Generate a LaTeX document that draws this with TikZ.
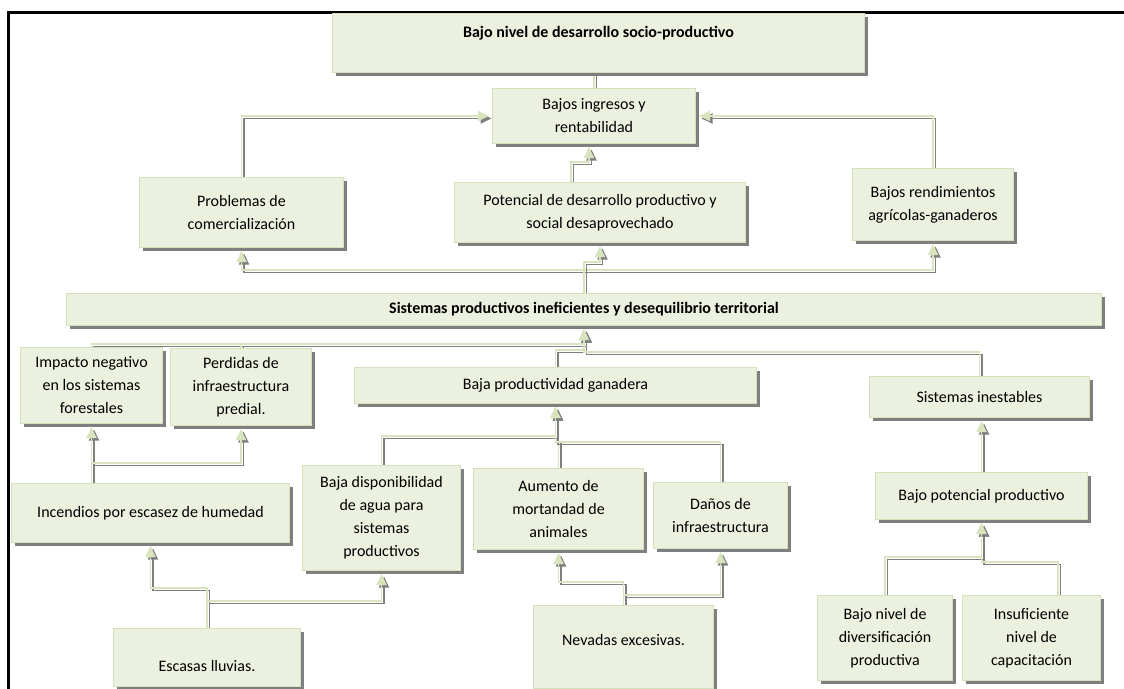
\documentclass[tikz,border=0pt]{standalone}
\usepackage{fontspec}
\setmainfont{Carlito}
\usetikzlibrary{arrows.meta,shadows,backgrounds}
\definecolor{arbfill}{HTML}{EBF1DE}
\definecolor{arbedge}{HTML}{D4E2BC}
\definecolor{arbshade}{HTML}{7F7F7F}
\definecolor{arblink}{HTML}{D7E4BD}

\begin{document}
\begin{tikzpicture}[
  x=1pt, y=-1pt,
  font=\fontsize{16}{23}\selectfont,
  box/.style={draw=arbedge, line width=1pt, fill=arbfill, align=center,
              inner sep=0pt, anchor=north west,
              general shadow={fill=arbshade, shadow xshift=3pt, shadow yshift=-3pt}},
  head/.style={box, font=\fontsize{16}{23}\selectfont\bfseries},
  tie/.style={draw=arblink, line width=1.8pt,
              preaction={draw=arbshade, line width=1.8pt,
                         transform canvas={shift={(2.5pt,-2.5pt)}}}},
  link/.style={draw=arblink, line width=1.8pt, shorten >=3pt,
               -{Triangle[length=11pt,width=10pt]},
               preaction={draw=arbshade, line width=1.8pt, shorten >=3pt,
                          -{Triangle[length=11pt,width=10pt]},
                          transform canvas={shift={(2.5pt,-2.5pt)}}}},
]
\useasboundingbox (0,0) rectangle (1124,688);

% ---------------- frame ---------------------------------------------
\draw[line width=3pt] (8,700) -- (8,12) -- (1140,12);

% ---------------- effects -------------------------------------------
\node[head, minimum width=532pt, minimum height=59pt, text depth=23pt] (top) at (332,13)
  {Bajo nivel de desarrollo socio-productivo};
\node[box, minimum width=203pt, minimum height=55pt] (ingresos) at (492,88)
  {Bajos ingresos y\\rentabilidad};
\node[box, minimum width=204pt, minimum height=70pt] (problemas) at (139,177)
  {Problemas de\\comercialización};
\node[box, minimum width=291pt, minimum height=60pt] (potencial) at (454,182)
  {Potencial de desarrollo productivo y\\social desaprovechado};
\node[box, minimum width=161pt, minimum height=72pt] (rendim) at (852,168)
  {Bajos rendimientos\\agrícolas-ganaderos};

% ---------------- core problem --------------------------------------
\node[head, minimum width=1035pt, minimum height=32pt] (sistemas) at (66,293)
  {Sistemas productivos ineficientes y desequilibrio territorial};

% ---------------- causes --------------------------------------------
\node[box, minimum width=142pt, minimum height=76pt] (impacto) at (20,347)
  {Impacto negativo\\en los sistemas\\forestales};
\node[box, minimum width=141pt, minimum height=77pt] (perdidas) at (170,348)
  {Perdidas de\\infraestructura\\predial.};
\node[box, minimum width=402pt, minimum height=36pt] (bajaprod) at (354,367)
  {Baja productividad ganadera};
\node[box, minimum width=220pt, minimum height=41pt] (inestables) at (869,376)
  {Sistemas inestables};
\node[box, minimum width=278pt, minimum height=59pt] (incendios) at (11,483)
  {Incendios por escasez de humedad};
\node[box, minimum width=158pt, minimum height=105pt] (bajadisp) at (302,465)
  {Baja disponibilidad\\de agua para\\sistemas\\productivos};
\node[box, minimum width=170pt, minimum height=81pt] (aumento) at (473,468)
  {Aumento de\\mortandad de\\animales};
\node[box, minimum width=134pt, minimum height=66pt] (danos) at (653,482)
  {Daños de\\infraestructura};
\node[box, minimum width=212pt, minimum height=47pt] (potprod) at (875,472)
  {Bajo potencial productivo};
\node[box, minimum width=187pt, minimum height=58pt, text height=28pt] (escasas) at (113,628)
  {Escasas lluvias.};
\node[box, minimum width=180pt, minimum height=83pt, text depth=15pt] (nevadas) at (533,605)
  {Nevadas excesivas.};
\node[box, minimum width=135pt, minimum height=85pt] (diversif) at (817,595)
  {Bajo nivel de\\diversificación\\productiva};
\node[box, minimum width=138pt, minimum height=85pt] (insuf) at (962,595)
  {Insuficiente\\nivel de\\capacitación};

% ---------------- connectors ----------------------------------------
\begin{scope}[on background layer]
  \draw[tie] (ingresos.north) -- (ingresos.north |- top.south);
  \draw[link] (problemas.north) |- (ingresos.west);
  \draw[link] (rendim.north) |- (ingresos.east);
  \draw[link] (potencial.north -| 571,0) -- (571,162) -| (ingresos.south -| 589,0);

  \draw[link] (sistemas.north) -- ++(0,-23) -| (problemas.south);
  \draw[link] (sistemas.north) -- ++(0,-23) -| (rendim.south);
  \draw[link] (sistemas.north) -- ++(0,-31) -| (potencial.south);

  \draw[link] (impacto.north) -- ++(0,-3) -| (sistemas.south);
  \draw[link] (perdidas.north) -- ++(0,-4) -| (sistemas.south);
  \draw[link] (bajaprod.north) -- ++(0,-17) -| (sistemas.south);
  \draw[link] (inestables.north) -- ++(0,-24) -| (sistemas.south);

  \draw[link] (bajadisp.north) -- ++(0,-29) -| (bajaprod.south);
  \draw[link] (aumento.north) -- ++(0,-28) -| (bajaprod.south);
  \draw[link] (danos.north) -- ++(0,-40) -| (bajaprod.south);

  \draw[link] (impacto.south |- incendios.north) -- (impacto.south);
  \draw[link] (impacto.south |- incendios.north) -- ++(0,-20) -| (perdidas.south);

  \draw[link] (escasas.north) -- ++(0,-40) -| (incendios.south);
  \draw[link] (escasas.north) -- ++(0,-27) -| (bajadisp.south);
  \draw[link] (nevadas.north) -- ++(0,-23) -| (aumento.south);
  \draw[link] (nevadas.north) -- ++(0,-10) -| (danos.south);

  \draw[link] (potprod.north) -- (potprod.north |- inestables.south);
  \draw[link] (diversif.north) -- ++(0,-38) -| (potprod.south);
  \draw[link] (insuf.north -| 1058,0) -- ++(0,-33) -| (potprod.south);
\end{scope}

\end{tikzpicture}
\end{document}
